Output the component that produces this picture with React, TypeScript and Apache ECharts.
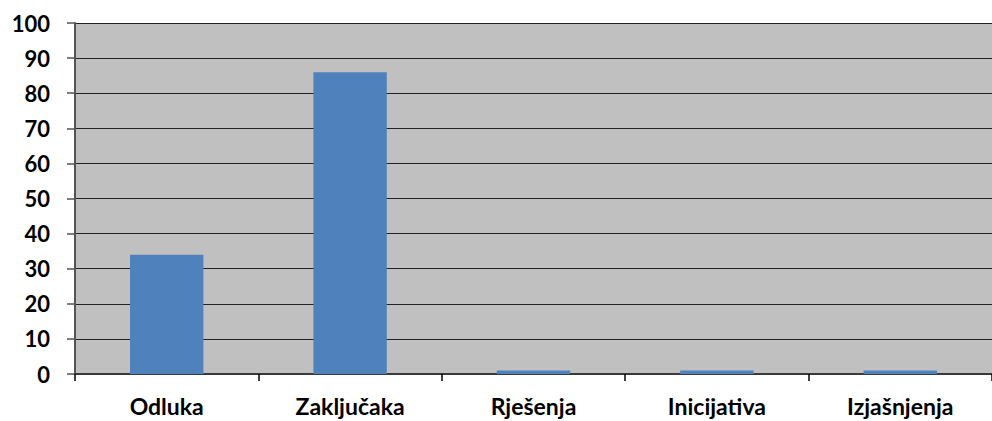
import React, { useEffect, useRef } from "react";
import * as echarts from "echarts";

const categories = ["Odluka", "Zaključaka", "Rješenja", "Inicijativa", "Izjašnjenja"];
const values = [34, 86, 1, 1, 1];

export default function App() {
  const ref = useRef<HTMLDivElement>(null);
  useEffect(() => {
    if (!ref.current) return;
    const chart = echarts.init(ref.current, null, { renderer: "svg" });
    chart.setOption({
      animation: false,
      grid: { left: 75, right: 0, top: 23, bottom: 47, show: true, backgroundColor: "#C0C0C0", borderWidth: 0 },
      xAxis: {
        type: "category",
        data: categories,
        axisLine: { lineStyle: { color: "#3a3a3a", width: 2 } },
        axisTick: { show: true, length: 7, lineStyle: { color: "#000", width: 1.5 } },
        axisLabel: { color: "#000", fontFamily: "Lato", fontWeight: "bold", fontSize: 23, margin: 20, lineHeight: 24 },
      },
      yAxis: {
        type: "value",
        min: 0,
        max: 100,
        interval: 10,
        axisLine: { show: true, lineStyle: { color: "#555", width: 2 } },
        axisTick: { show: true, length: 8, lineStyle: { color: "#555", width: 1.5 } },
        splitLine: { lineStyle: { color: "#222", width: 1.2 } },
        axisLabel: { color: "#000", fontFamily: "Lato", fontWeight: "bold", fontSize: 22, margin: 25 },
      },
      series: [
        {
          type: "bar",
          data: values,
          barCategoryGap: "60%",
          itemStyle: { color: "#4F81BD" },
        },
      ],
    });
    return () => chart.dispose();
  }, []);
  return <div ref={ref} style={{ position: "absolute", left: 0, top: 0, width: 992, height: 421 }} />;
}
